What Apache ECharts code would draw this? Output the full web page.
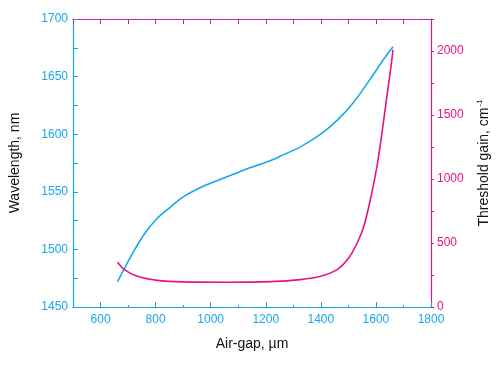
<!DOCTYPE html>
<html>
<head>
<meta charset="utf-8">
<script src="https://cdn.jsdelivr.net/npm/echarts@6/dist/echarts.min.js"></script>
<style>
  html, body { margin: 0; padding: 0; background: #fff; }
  #chart { width: 503px; height: 365px; }
</style>
</head>
<body>
<div id="chart"></div>
<script>
// air-gap (um) vs wavelength (nm)
var gapBlue = [662, 710, 758, 806, 855, 903, 975, 1048, 1121, 1206, 1254, 1326, 1399, 1459, 1520, 1580, 1628, 1662];
var wavelength = [1472, 1494, 1513, 1527, 1537, 1546, 1555, 1562, 1569, 1576, 1581, 1589, 1600, 1612, 1628, 1648, 1665, 1676];

// air-gap (um) vs threshold gain (cm-1)
var gapRed = [662, 686, 734, 806, 903, 1061, 1218, 1326, 1399, 1459, 1501, 1532, 1556, 1580, 1604, 1622, 1640, 1655, 1662];
var gain = [349, 292, 240, 208, 196, 193, 198, 214, 240, 292, 383, 500, 631, 840, 1100, 1361, 1648, 1883, 2010];

var xMajor = [600, 800, 1000, 1200, 1400, 1600, 1800];
var xMinor = [700, 900, 1100, 1300, 1500, 1700];

var blue = '#14a8ee';
var pink = '#e8137f';
var purple = '#c0288f';

function pairs(xs, ys) {
    var out = [];
    for (var i = 0; i < xs.length; i++) out.push([xs[i], ys[i]]);
    return out;
}

var chartDom = document.getElementById('chart');
var myChart = echarts.init(chartDom);
var font = 'Liberation Sans, Arial, sans-serif';

var option = {
    animation: false,
    textStyle: { fontFamily: font },
    grid: { left: 72, right: 72, top: 19, bottom: 58, containLabel: false },
    xAxis: [{
        type: 'value', position: 'bottom', min: 500, max: 1800,
        name: 'Air-gap, \u00b5m', nameLocation: 'middle', nameGap: 30,
        nameTextStyle: { color: '#111', fontSize: 14, fontFamily: font },
        axisLine: { lineStyle: { color: blue, width: 1.2 } },
        axisTick: { inside: true, length: 5, customValues: xMajor, lineStyle: { color: blue } },
        axisLabel: {
            customValues: xMajor, color: blue, fontSize: 12, margin: 7, fontFamily: font,
            formatter: function (v) { return String(v); }
        },
        splitLine: { show: false }
    }, {
        type: 'value', position: 'bottom', min: 500, max: 1800,
        axisLine: { show: false },
        axisTick: { inside: true, length: 2, customValues: xMinor, lineStyle: { color: blue } },
        axisLabel: { show: false },
        splitLine: { show: false }
    }, {
        type: 'value', position: 'top', min: 500, max: 1800, interval: 100,
        axisLine: { lineStyle: { color: purple, width: 1.2 } },
        axisTick: { inside: true, length: 5, lineStyle: { color: purple } },
        axisLabel: { show: false },
        splitLine: { show: false }
    }],
    yAxis: [{
        type: 'value', position: 'left', min: 1450, max: 1700, interval: 25,
        name: 'Wavelength, nm', nameLocation: 'middle', nameGap: 51, nameRotate: 90,
        nameTextStyle: { color: '#111', fontSize: 14, fontFamily: font },
        axisLine: { show: true, lineStyle: { color: blue, width: 1.2 } },
        axisTick: { inside: true, length: 5, lineStyle: { color: blue } },
        axisLabel: {
            color: blue, fontSize: 12, margin: 5, fontFamily: font,
            formatter: function (v) { return v % 50 === 0 ? String(v) : ''; }
        },
        splitLine: { show: false }
    }, {
        type: 'value', position: 'right', min: 0, max: 2250, interval: 250,
        name: 'Threshold gain, cm{sup|-1}', nameLocation: 'middle', nameGap: 45, nameRotate: 90,
        nameTextStyle: {
            color: '#111', fontSize: 14, fontFamily: font,
            rich: { sup: { fontSize: 8, color: '#111', padding: [0, 0, 8, 1], fontFamily: font } }
        },
        axisLine: { show: true, lineStyle: { color: pink, width: 1.2 } },
        axisTick: { inside: false, length: 3, lineStyle: { color: pink } },
        axisLabel: {
            color: pink, fontSize: 12, margin: 6, fontFamily: font,
            formatter: function (v) { return v % 500 === 0 ? String(v) : ''; }
        },
        splitLine: { show: false }
    }],
    series: [{
        name: 'Wavelength', type: 'line', xAxisIndex: 0, yAxisIndex: 0,
        data: pairs(gapBlue, wavelength), smooth: 0.3, symbol: 'none',
        lineStyle: { color: blue, width: 1.6 }
    }, {
        name: 'Threshold gain', type: 'line', xAxisIndex: 0, yAxisIndex: 1,
        data: pairs(gapRed, gain), smooth: 0.3, symbol: 'none',
        lineStyle: { color: pink, width: 1.6 }
    }]
};

option && myChart.setOption(option);
</script>
</body>
</html>
